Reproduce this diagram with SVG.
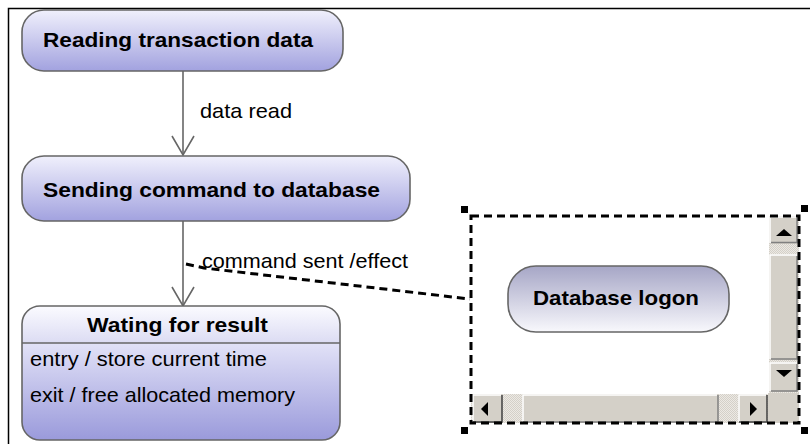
<svg xmlns="http://www.w3.org/2000/svg" width="810" height="444" viewBox="0 0 810 444">
<style>
.state{stroke:#666;stroke-width:1.6}
.title{font-family:"Liberation Sans",Arial,sans-serif;font-weight:bold;font-size:21px;fill:#000}
.lbl{font-family:"Liberation Sans",Arial,sans-serif;font-size:21px;fill:#000}
.conn{stroke:#666;stroke-width:1.6;fill:none}
.dash{stroke:#000;stroke-width:3;fill:none;stroke-dasharray:8 5}
.btn{fill:#d4d0c8}
.hl{stroke:#fff;stroke-width:1.5;fill:none}
.sh{stroke:#404040;stroke-width:1.5;fill:none}
.sh2{stroke:#808080;stroke-width:1.5;fill:none}
.handle{fill:#000}
</style>
<defs>
<linearGradient id="gState" x1="0" y1="0" x2="0" y2="1">
<stop offset="0" stop-color="#f0f0fc"/>
<stop offset="1" stop-color="#a2a2df"/>
</linearGradient>
<linearGradient id="gHead" x1="0" y1="0" x2="0" y2="1">
<stop offset="0" stop-color="#fbfbff"/>
<stop offset="1" stop-color="#dcdcf3"/>
</linearGradient>
<linearGradient id="gBody" x1="0" y1="0" x2="0" y2="1">
<stop offset="0" stop-color="#e2e2f7"/>
<stop offset="1" stop-color="#9a9adb"/>
</linearGradient>
<linearGradient id="gLogon" x1="0" y1="0" x2="0" y2="1">
<stop offset="0" stop-color="#a6a6c6"/>
<stop offset="1" stop-color="#f8f8fc"/>
</linearGradient>
<pattern id="checker" width="2" height="2" patternUnits="userSpaceOnUse">
<rect width="2" height="2" fill="#ece9e4"/>
<rect width="1" height="1" fill="#d4d0c8"/>
<rect x="1" y="1" width="1" height="1" fill="#d4d0c8"/>
</pattern>
<marker id="open" markerUnits="userSpaceOnUse" markerWidth="24" markerHeight="26" viewBox="-21 -13 23 26" refX="0" refY="0" orient="auto" overflow="visible">
<path d="M-19,-11 L0,0 L-19,11" fill="none" stroke="#666" stroke-width="1.6"/>
</marker>
<clipPath id="clipWait"><rect x="22" y="306" width="318" height="134" rx="18"/></clipPath>
</defs>

<!-- frame -->
<path d="M8.5,444 L8.5,8.5 L810,8.5" fill="none" stroke="#000" stroke-width="1.5"/>

<g id="connectors">
<line class="conn" x1="183" y1="71" x2="183" y2="155" marker-end="url(#open)"/>
<line class="conn" x1="183" y1="221" x2="183" y2="306" marker-end="url(#open)"/>
<polyline class="dash" points="186,264 204,268 470,299"/>
<text class="lbl" x="200" y="118" textLength="92" lengthAdjust="spacingAndGlyphs">data read</text>
<text class="lbl" x="202" y="268" textLength="206" lengthAdjust="spacingAndGlyphs">command sent /effect</text>
</g>

<g id="node-reading">
<rect class="state" x="22" y="10" width="321" height="61" rx="22" fill="url(#gState)"/>
<text class="title" x="43" y="47" textLength="270" lengthAdjust="spacingAndGlyphs">Reading transaction data</text>
</g>

<g id="node-sending">
<rect class="state" x="22" y="156" width="388" height="65" rx="22" fill="url(#gState)"/>
<text class="title" x="43" y="197" textLength="337" lengthAdjust="spacingAndGlyphs">Sending command to database</text>
</g>

<g id="node-waiting">
<g clip-path="url(#clipWait)">
<rect x="22" y="306" width="318" height="37" fill="url(#gHead)"/>
<rect x="22" y="343" width="318" height="97" fill="url(#gBody)"/>
</g>
<rect class="state" x="22" y="306" width="318" height="134" rx="18" fill="none"/>
<line x1="22" y1="343" x2="340" y2="343" stroke="#666" stroke-width="1.6"/>
<text class="title" x="87" y="332" textLength="181" lengthAdjust="spacingAndGlyphs">Wating for result</text>
<text class="lbl" x="30" y="366" textLength="237" lengthAdjust="spacingAndGlyphs">entry / store current time</text>
<text class="lbl" x="30" y="402" textLength="265" lengthAdjust="spacingAndGlyphs">exit / free allocated memory</text>
</g>

<g id="node-logon-view">
<rect x="471" y="216" width="328" height="207" fill="#fff"/>
<g id="node-logon">
<rect class="state" x="508" y="266" width="221" height="66" rx="28" fill="url(#gLogon)"/>
<text class="title" x="533" y="305" textLength="166" lengthAdjust="spacingAndGlyphs">Database logon</text>
</g>
<!-- vertical scrollbar -->
<rect x="769" y="216" width="30" height="177" fill="url(#checker)"/>
<rect class="btn" x="769" y="216" width="29" height="28"/>
<path class="hl" d="M770,243 L770,217 L797,217"/>
<path class="sh2" d="M771,242.5 L797,242.5 L797,218"/>
<path d="M776,236 L784,229 L792,236 Z" fill="#000"/>
<rect class="btn" x="769" y="254" width="29" height="106"/>
<path class="hl" d="M770,359 L770,255 L797,255"/>
<path class="sh2" d="M771,359 L797,359 L797,256"/>
<rect class="btn" x="769" y="362" width="29" height="30"/>
<path class="hl" d="M770,391 L770,363 L797,363"/>
<path class="sh2" d="M771,391 L797,391 L797,364"/>
<path d="M776,370 L792,370 L784,377 Z" fill="#000"/>
<rect class="btn" x="768" y="393" width="31" height="30"/>
<!-- horizontal scrollbar -->
<rect x="471" y="394" width="297" height="29" fill="url(#checker)"/>
<rect class="btn" x="472" y="394" width="30" height="29"/>
<path class="hl" d="M473,422 L473,395 L501,395"/>
<path class="sh" d="M473,422 L502,422 L502,395"/>
<path d="M488,402 L481,409 L488,416 Z" fill="#000"/>
<rect class="btn" x="522" y="394" width="196" height="29"/>
<path class="hl" d="M523,422 L523,395 L717,395"/>
<path class="sh2" d="M523,422 L718,422 L718,395"/>
<rect class="btn" x="738" y="394" width="29" height="29"/>
<path class="hl" d="M739,422 L739,395 L766,395"/>
<path class="sh" d="M739,422 L767,422 L767,395"/>
<path d="M750,402 L757,409 L750,416 Z" fill="#000"/>
<!-- selection frame -->
<rect class="dash" x="471" y="216" width="328" height="207"/>
<rect class="handle" x="461" y="206" width="7" height="7"/>
<rect class="handle" x="801" y="205" width="7" height="7"/>
<rect class="handle" x="461" y="427" width="7" height="7"/>
<rect class="handle" x="801" y="427" width="7" height="7"/>
</g>
</svg>
